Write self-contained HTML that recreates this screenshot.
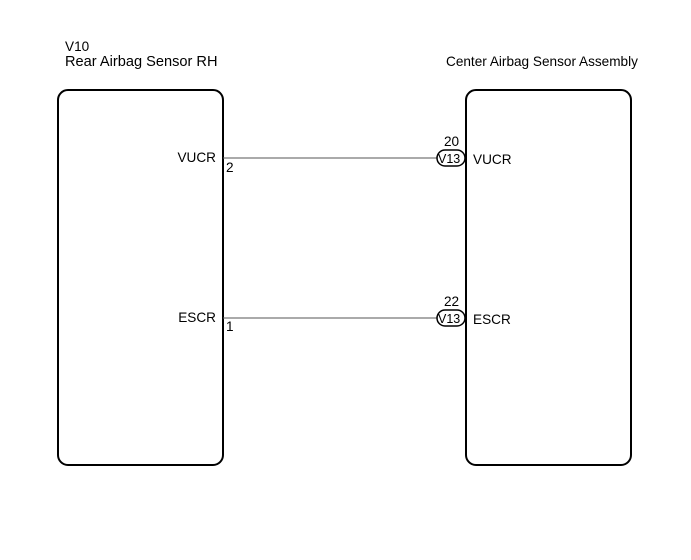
<!DOCTYPE html>
<html><head><style>body{margin:0;background:#fff}</style></head><body>
<svg width="691" height="555" xmlns="http://www.w3.org/2000/svg" font-family="Liberation Sans, Arial, sans-serif" font-size="13.6" fill="#000">
<rect x="0" y="0" width="691" height="555" fill="#fff"/>
<text x="65" y="51">V10</text>
<text x="65" y="66" font-size="14.6">Rear Airbag Sensor RH</text>
<text x="446" y="66">Center Airbag Sensor Assembly</text>
<rect x="58" y="90" width="165" height="375" rx="10" fill="none" stroke="#000" stroke-width="2"/>
<rect x="466" y="90" width="165" height="375" rx="10" fill="none" stroke="#000" stroke-width="2"/>
<line x1="223" y1="158" x2="438" y2="158" stroke="#555" stroke-width="1"/>
<line x1="223" y1="318" x2="438" y2="318" stroke="#555" stroke-width="1"/>
<rect x="437" y="150" width="28" height="16" rx="8" fill="#fff" stroke="#000" stroke-width="1.5"/>
<rect x="437" y="310" width="28" height="16" rx="8" fill="#fff" stroke="#000" stroke-width="1.5"/>
<text x="438" y="163" font-size="12.5">V13</text>
<text x="438" y="323" font-size="12.5">V13</text>
<text x="444" y="146">20</text>
<text x="444" y="306">22</text>
<text x="473" y="164">VUCR</text>
<text x="473" y="324">ESCR</text>
<text x="216" y="162" text-anchor="end">VUCR</text>
<text x="216" y="322" text-anchor="end">ESCR</text>
<text x="226" y="172">2</text>
<text x="226" y="331">1</text>
</svg>
</body></html>
